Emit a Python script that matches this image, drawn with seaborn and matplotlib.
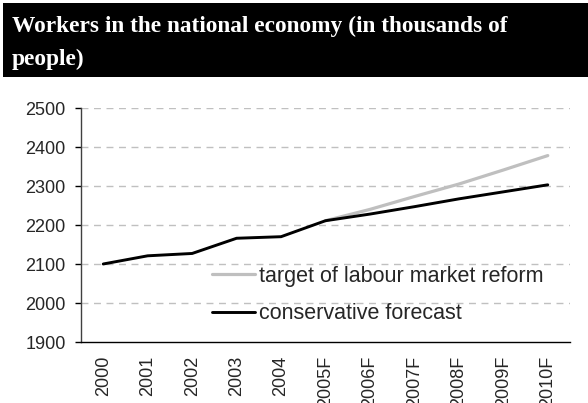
import numpy as np
import pandas as pd
import seaborn as sns
import matplotlib.pyplot as plt
from matplotlib.patches import Rectangle

years = ["2000", "2001", "2002", "2003", "2004", "2005F",
         "2006F", "2007F", "2008F", "2009F", "2010F"]
conservative = [2100, 2121, 2127, 2166, 2170, 2211, 2228, 2247, 2267, 2285, 2303]
target = [np.nan, np.nan, np.nan, np.nan, np.nan, 2211, 2240, 2273, 2305, 2341, 2378]
y_ticks = [1900, 2000, 2100, 2200, 2300, 2400, 2500]

sns.set_style("white")
plt.rcParams["font.family"] = ["Liberation Sans", "DejaVu Sans"]

fig = plt.figure(figsize=(5.88, 4.03), dpi=100)
ax = fig.add_axes([81 / 588, 1 - 342 / 403, (570 - 81) / 588, (342 - 108) / 403])

pos = np.arange(len(years))
df = pd.DataFrame({"pos": pos, "conservative": conservative, "target": target})

sns.lineplot(data=df, x="pos", y="target", ax=ax, color="#BFBFBF", lw=2.3,
             label="target of labour market reform", zorder=2)
sns.lineplot(data=df, x="pos", y="conservative", ax=ax, color="black", lw=2.1,
             label="conservative forecast", zorder=3)

ax.set_xlim(-0.5, len(years) - 0.5)
ax.set_ylim(1900, 2500)
ax.set_yticks(y_ticks)
ax.set_yticklabels([str(v) for v in y_ticks], fontsize=13)
ax.set_xticks(pos)
ax.set_xticklabels(years, rotation=90, fontsize=13)
ax.set_xticks(np.arange(-0.5, len(years), 1.0), minor=True)
ax.tick_params(axis="x", which="major", length=0, pad=10)
ax.tick_params(axis="x", which="minor", length=4, width=1, color="black", direction="out")
ax.tick_params(axis="y", length=4, width=1, color="black", direction="out", left=True, pad=7)
ax.set_xlabel("")
ax.set_ylabel("")

for v in y_ticks[1:]:
    ax.axhline(v, color="#C0C0C0", lw=1, ls=(0, (5, 4)), zorder=1)

sns.despine(ax=ax, top=True, right=True)
ax.spines["left"].set_color("#404040")
ax.spines["left"].set_linewidth(1)
ax.spines["bottom"].set_color("black")
ax.spines["bottom"].set_linewidth(1)

leg = ax.legend(loc="center left", bbox_to_anchor=((212 - 81) / 489, (342 - 295) / 234),
                frameon=False, fontsize=15.5, handlelength=2.0, handletextpad=0.2,
                labelspacing=0.75, borderaxespad=0, borderpad=0)

# title banner
fig.patches.append(Rectangle((3 / 588, 1 - 77 / 403), 585 / 588, 74 / 403,
                             transform=fig.transFigure, facecolor="black",
                             edgecolor="none", zorder=0))
fig.text(12 / 588, 1 - 32 / 403, "Workers in the national economy (in thousands of",
         color="white", fontsize=16.8, fontweight="bold", family="Liberation Serif",
         va="baseline", ha="left")
fig.text(12 / 588, 1 - 65 / 403, "people)",
         color="white", fontsize=16.8, fontweight="bold", family="Liberation Serif",
         va="baseline", ha="left")

fig.savefig("out.png", dpi=100)
